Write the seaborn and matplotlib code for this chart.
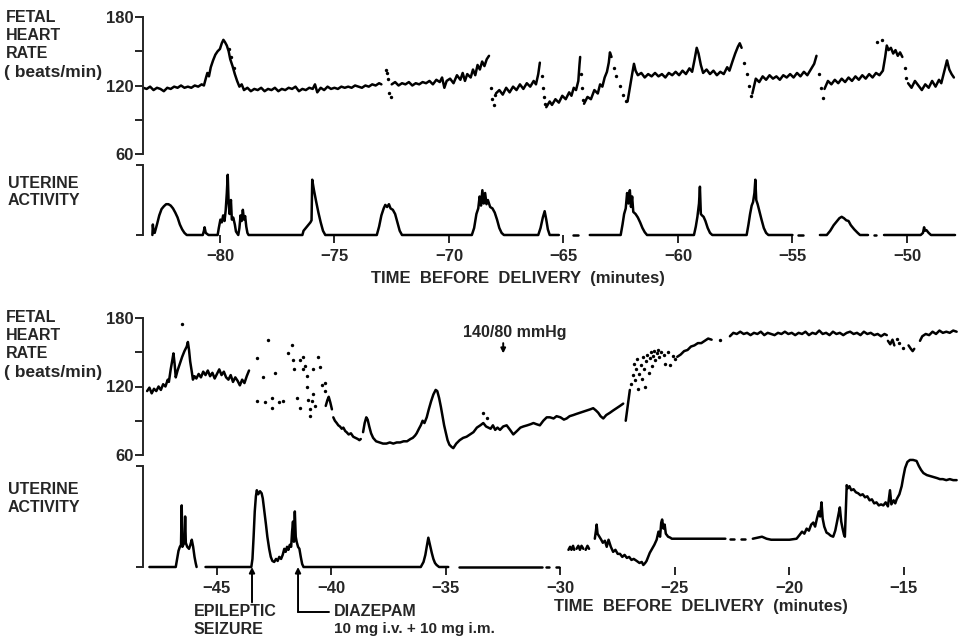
import numpy as np
import pandas as pd
import matplotlib
matplotlib.use("Agg")
import matplotlib.pyplot as plt
import seaborn as sns

sns.set_theme(style="ticks")
plt.rcParams['font.family'] = ['Liberation Sans', 'DejaVu Sans']
plt.rcParams['font.weight'] = 'bold'

nan = np.nan

# ---------------- Upper record (-83 to -48 min) ----------------
top_fhr_t = [
    -83.35, -83.2, -83.05, -82.9, -82.75, -82.6, -82.45, -82.3, -82.15, -82.0,
    -81.85, -81.7, -81.55, -81.4, -81.25, -81.1, -80.95, -80.8, -80.7, -80.62,
    -80.55, -80.48, -80.4, -80.3, -80.2, -80.1, -80.0, -79.92, -79.85, -79.78,
    -79.7, -79.62, -79.55, -79.45, -79.35, -79.25, -79.15, -79.05, -78.95, -78.8,
    -78.65, -78.5, -78.35, -78.2, -78.05, -77.9, -77.75, -77.6, -77.45, -77.3,
    -77.15, -77.0, -76.85, -76.7, -76.55, -76.4, -76.25, -76.1, -75.95, -75.85,
    -75.75, -75.6, -75.45, -75.3, -75.15, -75.0, -74.85, -74.7, -74.55, -74.4,
    -74.25, -74.1, -73.95, -73.8, -73.65, -73.5, -73.35, -73.2, -73.05, -72.95, nan,
    -72.5, -72.35, -72.2, -72.05, -71.9, -71.75, -71.6, -71.45, -71.3, -71.15,
    -71.0, -70.85, -70.7, -70.55, -70.4, -70.3, -70.2, -70.1, -69.95, -69.8,
    -69.65, -69.5, -69.4, -69.3, -69.2, -69.05, -68.95, -68.85, -68.75, -68.65,
    -68.55, -68.45, -68.35, -68.25, nan,
    -67.95, -67.8, -67.65, -67.5, -67.35, -67.2, -67.05, -66.9, -66.75, -66.6,
    -66.45, -66.3, -66.2, -66.1, -66.03, nan,
    -65.75, -65.6, -65.5, -65.35, -65.2, -65.05, -64.9, -64.75, -64.65, -64.55,
    -64.45, -64.35, -64.3, -64.27, nan,
    -64.1, -63.95, -63.8, -63.65, -63.5, -63.4, -63.3, -63.2, -63.1, -63.02,
    -62.97, -62.9, nan,
    -62.2, -62.1, -62.0, -61.92, -61.85, -61.75, -61.6, -61.45, -61.3, -61.15,
    -61.0, -60.85, -60.7, -60.55, -60.4, -60.25, -60.1, -59.95, -59.8, -59.65,
    -59.5, -59.38, -59.28, -59.18, -59.1, -59.0, -58.9, -58.75, -58.6, -58.45,
    -58.3, -58.15, -58.0, -57.85, -57.75, -57.62, -57.5, -57.38, -57.3, -57.22, nan,
    -56.75, -56.6, -56.45, -56.3, -56.15, -56.0, -55.85, -55.7, -55.55, -55.4,
    -55.25, -55.1, -54.95, -54.8, -54.65, -54.5, -54.35, -54.2, -54.05, -53.95, nan,
    -53.6, -53.45, -53.3, -53.15, -53.0, -52.85, -52.7, -52.55, -52.4, -52.25,
    -52.1, -51.95, -51.8, -51.65, -51.5, -51.35, -51.2, -51.05, -50.95, -50.88,
    -50.8, -50.7, -50.6, -50.5, -50.4, -50.3, -50.2, nan,
    -49.95, -49.8, -49.65, -49.5, -49.35, -49.2, -49.05, -48.9, -48.75, -48.6,
    -48.5, -48.4, -48.3, -48.25, -48.15, -48.05, -47.95,
]
top_fhr_bpm = [
    118, 117, 119, 116, 118, 117, 115, 118, 117, 119,
    118, 120, 118, 119, 118, 120, 119, 121, 120, 126,
    131, 128, 136, 142, 147, 150, 152, 157, 160, 158,
    155, 150, 143, 137, 130, 124, 119, 121, 116, 118,
    115, 117, 116, 118, 115, 117, 116, 118, 115, 117,
    116, 118, 117, 119, 115, 117, 116, 118, 117, 121,
    114, 118, 116, 119, 117, 118, 117, 119, 118, 119,
    118, 120, 119, 118, 120, 119, 121, 120, 122, 121, nan,
    121, 123, 120, 122, 121, 123, 120, 122, 121, 123,
    122, 124, 121, 125, 123, 127, 118, 124, 126, 122,
    129, 125, 131, 124, 130, 127, 134, 129, 138, 134,
    141, 137, 143, 146, nan,
    113, 116, 112, 118, 114, 119, 116, 121, 117, 122,
    119, 124, 121, 130, 140, nan,
    101, 106, 103, 108, 105, 111, 108, 114, 111, 118,
    116, 124, 138, 145, nan,
    104, 110, 108, 116, 113, 121, 119, 127, 132, 140,
    149, 145, nan,
    106, 118, 130, 139, 133, 129, 131, 127, 130, 128,
    131, 128, 130, 127, 131, 129, 132, 129, 133, 130,
    135, 132, 142, 153, 148, 138, 131, 134, 130, 133,
    129, 132, 130, 136, 133, 141, 148, 154, 157, 153, nan,
    113, 126, 123, 128, 125, 129, 126, 128, 125, 129,
    127, 130, 127, 131, 128, 132, 129, 134, 139, 146, nan,
    117, 124, 121, 125, 122, 126, 123, 127, 124, 128,
    125, 129, 126, 130, 127, 131, 129, 133, 145, 155,
    151, 153, 148, 151, 146, 149, 145, nan,
    122, 118, 124, 120, 116, 121, 118, 124, 119, 125,
    122, 130, 138, 142, 134, 130, 127,
]
top_dots_t = [-72.75, -72.7, -72.65, -72.6, -72.55, -68.15, -68.1, -68.05, -68.0,
              -65.95, -65.9, -65.85, -65.8, -64.22, -64.18, -64.15, -62.8, -62.7,
              -62.55, -62.4, -62.25, -57.1, -57.0, -56.9, -56.8, -53.85, -53.75,
              -53.68, -51.3, -51.1, -50.1, -50.05, -79.6, -79.5, -79.4]
top_dots_bpm = [134, 131, 126, 113, 110, 118, 108, 103, 112,
                128, 118, 110, 104, 130, 118, 107, 135, 128,
                120, 112, 106, 140, 130, 120, 111, 130, 118,
                109, 158, 160, 135, 127, 152, 145, 135]

top_ua_t = [
    -82.95, -82.93, -82.9, -82.85, -82.75, -82.65, -82.55, -82.45, -82.35, -82.25,
    -82.15, -82.05, -81.95, -81.85, -81.75, -81.65, -81.55, -81.45, -80.75, -80.7,
    -80.67, -80.62, -80.5, -80.1, -80.05, -79.98, -79.92, -79.86, -79.8, -79.75,
    -79.7, -79.66, -79.62, -79.58, -79.52, -79.48, -79.42, -79.35, -79.3, -79.2,
    -79.15, -79.1, -79.05, -79.0, -78.95, -78.9, -78.85, -78.8, -78.75, -76.4,
    -76.35, -76.2, -76.05, -76.0, -75.97, -75.9, -75.8, -75.7, -75.6, -75.5,
    -75.4, -73.15, -73.05, -72.95, -72.85, -72.78, -72.7, -72.62, -72.55, -72.45,
    -72.35, -72.25, -72.15, -72.05, -69.0, -68.9, -68.8, -68.72, -68.66, -68.6,
    -68.54, -68.48, -68.42, -68.36, -68.3, -68.2, -68.1, -68.0, -67.9, -67.8,
    -67.7, -67.6, -66.1, -66.0, -65.9, -65.82, -65.75, -65.68, -65.6, -65.2, nan,
    -64.6, -64.35, nan,
    -63.85, -62.5, -62.42, -62.35, -62.28, -62.22, -62.16, -62.1, -62.05, -62.0,
    -61.95, -61.85, -61.75, -61.65, -61.55, -61.45, -61.35, -59.3, -59.22, -59.15,
    -59.08, -59.04, -59.0, -58.95, -58.88, -58.8, -58.7, -58.6, -58.5, -57.0,
    -56.92, -56.85, -56.78, -56.72, -56.66, -56.62, -56.58, -56.52, -56.45, -56.35,
    -56.25, -56.15, -56.05, -55.0, nan,
    -54.75, -54.55, nan,
    -53.8, -53.5, -53.35, -53.2, -53.05, -52.95, -52.85, -52.75, -52.65, -52.55,
    -52.45, -52.3, -52.15, -52.05, -51.7, nan,
    -51.45, -51.35, nan,
    -51.0, -49.4, -49.3, -49.25, -49.22, -49.15, -49.05, -48.95, -47.9,
]
top_ua = [
    0, 15, 5, 3, 15, 28, 37, 41, 44, 44,
    42, 38, 32, 25, 15, 8, 3, 0, 0, 6,
    11, 3, 0, 0, 10, 22, 18, 28, 20, 35,
    60, 86, 45, 30, 50, 22, 25, 15, 5, 0,
    10, 28, 20, 36, 22, 27, 12, 3, 0, 0,
    6, 12, 18, 21, 79, 65, 48, 32, 18, 6,
    0, 0, 12, 28, 38, 43, 40, 44, 38, 36,
    30, 18, 6, 0, 0, 10, 30, 38, 55, 42,
    64, 45, 60, 44, 50, 40, 38, 32, 22, 10,
    3, 0, 0, 10, 25, 34, 22, 8, 0, 0, nan,
    0, 0, nan,
    0, 0, 15, 30, 38, 60, 45, 64, 40, 55,
    33, 30, 25, 18, 10, 4, 0, 0, 12, 26,
    45, 69, 30, 28, 26, 20, 10, 3, 0, 0,
    15, 30, 42, 47, 60, 79, 50, 44, 35, 22,
    10, 3, 0, 0, nan,
    0, 0, nan,
    0, 0, 6, 14, 20, 24, 26, 24, 21, 20,
    14, 8, 3, 0, 0, nan,
    0, 0, nan,
    0, 0, 3, 11, 6, 7, 3, 0, 0,
]

# ---------------- Lower record (-48 to -13 min) ----------------
bot_fhr_t = [
    -48.05, -47.95, -47.85, -47.75, -47.65, -47.55, -47.45, -47.35, -47.25, -47.15,
    -47.1, -47.02, -46.95, -46.9, -46.85, -46.8, -46.72, -46.62, -46.52, -46.42,
    -46.32, -46.27, -46.22, -46.17, -46.1, -46.05, -45.98, -45.9, -45.8, -45.7,
    -45.6, -45.5, -45.4, -45.3, -45.2, -45.1, -45.0, -44.9, -44.8, -44.7,
    -44.6, -44.5, -44.4, -44.3, -44.2, -44.1, -44.0, -43.9, -43.8, -43.7, -43.6, nan,
    -40.25, -40.18, -40.12, -40.05, -39.98, nan,
    -39.92, -39.85, -39.77, -39.7, -39.63, -39.55, -39.48, -39.4, -39.34, -39.25,
    -39.15, -39.05, -38.95, -38.85, -38.78, -38.72, nan,
    -38.62, -38.55, -38.48, -38.42, -38.35, -38.27, -38.18, -38.05, -37.9, -37.75,
    -37.6, -37.45, -37.3, -37.15, -37.0, -36.85, -36.7, -36.55, -36.45, -36.35,
    -36.28, -36.18, -36.1, -36.02, -35.94, -35.84, -35.75, -35.65, -35.55, -35.45,
    -35.38, -35.3, -35.22, -35.15, -35.08, -35.0, -34.93, -34.85, -34.75, -34.68,
    -34.55, -34.4, -34.25, -34.1, -33.95, -33.8, -33.65, -33.5, -33.37, -33.25,
    -33.15, -33.05, -32.95, -32.85, -32.75, -32.64, -32.5, -32.35, -32.2, -32.06,
    -31.9, -31.75, -31.62, -31.45, -31.3, -31.18, -31.05, -30.9, -30.75, -30.6,
    -30.46, -30.3, -30.17, -30.0, -29.85, -29.73, -29.6, -29.44, -29.3, -29.15,
    -29.0, -28.85, -28.7, -28.57, -28.45, -28.35, -28.25, -28.13, -28.0, -27.84,
    -27.7, -27.55, -27.4, -27.26, nan,
    -27.15, -27.05, -26.97, nan,
    -24.9, -24.75, -24.6, -24.45, -24.3, -24.15, -24.0, -23.85, -23.7, -23.55, -23.4, nan,
    -22.6, -22.45, -22.3, -22.15, -22.0, -21.85, -21.7, -21.55, -21.4, -21.25,
    -21.1, -20.95, -20.8, -20.65, -20.5, -20.35, -20.2, -20.05, -19.9, -19.75,
    -19.6, -19.45, -19.3, -19.15, -19.0, -18.85, -18.7, -18.55, -18.4, -18.25,
    -18.1, -17.95, -17.8, -17.65, -17.5, -17.35, -17.2, -17.05, -16.9, -16.75,
    -16.6, -16.45, -16.3, -16.15, -16.0, -15.85, -15.75, nan,
    -15.7, -15.6, -15.5, -15.42, nan,
    -14.8, -14.7, -14.62, -14.55, nan,
    -14.3, -14.2, -14.05, -13.9, -13.75, -13.6, -13.45, -13.3, -13.15, -13.0, -12.85, -12.7,
]
bot_fhr_bpm = [
    116, 119, 114, 118, 116, 120, 117, 122, 120, 126,
    124, 135, 143, 149, 140, 128, 134, 140, 146, 151,
    155, 159, 152, 142, 133, 126, 129, 127, 131, 128,
    133, 130, 134, 129, 132, 127, 131, 135, 130, 133,
    128, 126, 130, 124, 128, 125, 121, 126, 123, 129, 134, nan,
    103, 108, 111, 106, 100, nan,
    93, 90, 88, 86, 85, 83, 84, 81, 80, 78,
    79, 76, 75, 74, 73, 74, nan,
    80, 88, 93, 91, 85, 79, 75, 72, 71, 70,
    70, 71, 70, 71, 71, 72, 72, 74, 75, 77,
    79, 83, 86, 90, 88, 93, 100, 107, 113, 117,
    116, 110, 102, 94, 86, 79, 73, 69, 67, 66,
    70, 73, 75, 76, 78, 80, 84, 86, 88, 85,
    84, 83, 86, 82, 84, 82, 85, 86, 82, 78,
    81, 84, 85, 86, 87, 88, 87, 86, 90, 93,
    93, 92, 94, 93, 91, 92, 94, 95, 96, 97,
    98, 99, 100, 101, 99, 97, 94, 92, 95, 97,
    99, 101, 103, 105, nan,
    90, 105, 117, nan,
    146, 148, 151, 152, 155, 156, 158, 158, 160, 162, 161, nan,
    164, 167, 166, 168, 166, 167, 165, 167, 166, 168,
    165, 167, 166, 165, 167, 166, 168, 166, 167, 165,
    167, 166, 168, 165, 167, 166, 169, 166, 167, 165,
    168, 166, 167, 165, 167, 168, 166, 167, 165, 168,
    166, 167, 165, 166, 164, 166, 165, nan,
    160, 157, 161, 156, nan,
    156, 153, 151, 153, nan,
    160, 164, 166, 165, 168, 166, 169, 167, 168, 167, 169, 168,
]
bot_dots_t = [-42.76, -43.27, -42.47, -43.27, -42.61, -42.61, -42.1, -41.89, -41.74, -41.67,
              -41.64, -41.52, -41.38, -41.23, -41.16, -41.08, -41.08, -41.01, -40.94, -40.94,
              -40.87, -40.79, -40.79, -40.57, -40.5, -40.43, -40.28, -40.28, -41.23, -41.38,
              -40.72, -43.0, -42.3, -42.9, -46.54, -33.4, -33.2,
              -26.9, -26.85, -26.8, -26.75, -26.7, -26.65, -26.6, -26.55, -26.5, -26.45,
              -26.4, -26.35, -26.3, -26.25, -26.2, -26.15, -26.1, -26.05, -26.0, -25.95,
              -25.9, -25.85, -25.8, -25.75, -25.7, -25.6, -25.5, -25.45, -25.3, -25.2,
              -25.1, -25.0, -23.03, -15.3, -15.2, -15.05]
bot_dots_bpm = [161, 145, 132, 107, 110, 101, 107, 149, 156, 143,
                135, 110, 101, 146, 138, 129, 120, 108, 100, 94,
                107, 135, 113, 146, 137, 121, 123, 116, 135, 143,
                103, 128, 106, 106, 175, 97, 92,
                122, 130, 140, 126, 135, 144, 118, 131, 139, 127,
                146, 135, 120, 142, 148, 132, 145, 150, 138, 147,
                151, 143, 149, 152, 146, 150, 148, 140, 150, 139,
                147, 144, 161, 162, 158, 154]

bot_ua_t = [
    -47.95, -46.8, -46.74, -46.68, -46.62, -46.57, -46.54, -46.51, -46.47, -46.42,
    -46.39, -46.36, -46.3, -46.22, -46.16, -46.1, -46.04, -45.98, -45.93, -45.89, nan,
    -45.5, -43.5, -43.45, -43.4, -43.35, -43.3, -43.26, -43.2, -43.12, -43.05,
    -43.0, -42.93, -42.86, -42.8, -42.72, -42.65, -42.58, -42.5, -42.42, -42.35,
    -42.28, -42.2, -42.13, -42.06, -42.0, -41.94, -41.88, -41.82, -41.76, -41.72,
    -41.68, -41.64, -41.6, -41.56, -41.52, -41.46, -41.4, -41.34, -41.28, -41.22,
    -36.1, -35.98, -35.9, -35.84, -35.77, -35.7, -35.62, -35.55, -35.48, -35.41, -35.3, -34.9, nan,
    -34.45, -30.8, nan, -30.65, -30.5, nan, -30.2, -30.05, nan,
    -29.65, -29.58, -29.52, -29.45, -29.4, nan,
    -29.3, -29.22, -29.15, -29.08, -29.0, nan,
    -28.9, -28.82, -28.75, nan,
    -28.5, -28.45, -28.42, -28.38, -28.3, -28.22, -28.15, -28.06, -27.98, -27.9,
    -27.8, -27.7, -27.6, -27.5, -27.4, -27.3, -27.2, -27.1, -27.0, -26.9,
    -26.8, -26.67, -26.55, -26.45, -26.38, -26.3, -26.24, -26.17, -26.1, -26.0,
    -25.9, -25.8, -25.72, -25.65, -25.6, -25.56, -25.5, -25.45, -25.4, -25.3,
    -25.2, -25.14, -24.0, -22.8, nan, -22.6, -22.4, nan, -22.1, -21.95, nan,
    -21.6, -21.4, -21.2, -21.0, -20.8, -20.5, -20.0, -19.69, -19.55, -19.45,
    -19.35, -19.25, -19.15, -19.05, -18.96, -18.88, -18.8, -18.72, -18.66, -18.6,
    -18.55, -18.48, -18.38, -18.3, -18.2, -18.09, -18.0, -17.92, -17.86, -17.8,
    -17.74, -17.68, -17.62, -17.58, -17.54, -17.5, -17.45, -17.38, -17.3, -17.2,
    -17.1, -17.0, -16.9, -16.8, -16.7, -16.6, -16.5, -16.4, -16.3, -16.2,
    -16.1, -16.0, -15.9, -15.8, -15.7, -15.61, -15.55, -15.45, -15.38, -15.32,
    -15.2, -15.1, -15.03, -14.95, -14.85, -14.74, -14.6, -14.45, -14.35, -14.25,
    -14.15, -14.0, -13.85, -13.7, -13.55, -13.43, -13.3, -13.15, -13.0, -12.85, -12.7,
]
bot_ua = [
    0, 0, 8, 16, 20, 22, 61, 20, 22, 24,
    50, 24, 20, 18, 22, 27, 20, 10, 4, 0, nan,
    0, 0, 8, 30, 55, 70, 76, 72, 75, 73,
    68, 55, 42, 30, 18, 10, 6, 5, 8, 6,
    10, 8, 12, 18, 15, 20, 17, 22, 20, 35,
    45, 25, 55, 30, 25, 20, 18, 10, 3, 0,
    0, 5, 12, 20, 29, 22, 14, 8, 4, 2, 0, 0, nan,
    0, 0, nan, 0, 0, nan, 0, 0, nan,
    17, 20, 17, 21, 17, nan,
    18, 21, 17, 21, 18, nan,
    17, 21, 18, nan,
    28, 36, 42, 33, 30, 27, 24, 26, 20, 27,
    20, 15, 17, 13, 13, 10, 12, 9, 10, 7,
    8, 6, 4, 5, 2, 4, 6, 10, 14, 18,
    22, 27, 35, 30, 44, 47, 38, 42, 33, 30,
    29, 28, 28, 28, nan, 28, 28, nan, 28, 28, nan,
    28, 29, 30, 28, 27, 27, 27, 28, 32, 35,
    33, 38, 36, 42, 44, 40, 48, 55, 50, 64,
    48, 40, 34, 33, 31, 30, 36, 45, 52, 59,
    45, 38, 32, 30, 55, 81, 78, 80, 76, 77,
    74, 73, 71, 72, 69, 70, 66, 67, 63, 64,
    61, 62, 61, 64, 60, 76, 62, 66, 63, 67,
    72, 80, 89, 98, 104, 106, 106, 105, 100, 96,
    93, 91, 90, 89, 88, 87, 87, 86, 87, 86, 86,
]

top_ticks = [-80, -75, -70, -65, -60, -55, -50]
bot_ticks = [-45, -40, -35, -30, -25, -20, -15]
fhr_ticks = [60, 90, 120, 150, 180]
fhr_labels = ['60', '', '120', '', '180']
seizure_t = -43.47
diazepam_t = -41.46
bp_t = -32.5

# ---------------- helpers ----------------
WPX, HPX = 958, 637


def trace_df(t, v):
    t = np.asarray(t, float)
    v = np.asarray(v, float)
    assert len(t) == len(v)
    seg = np.cumsum(np.isnan(v))
    return pd.DataFrame({'t': t, 'v': v, 'seg': seg}).dropna()


def draw_trace(ax, t, v, lw=1.8):
    df = trace_df(t, v)
    sns.lineplot(data=df, x='t', y='v', units='seg', estimator=None, sort=False,
                 color='black', lw=lw, ax=ax, legend=False)


def draw_dots(ax, t, v, s=6):
    assert len(t) == len(v)
    sns.scatterplot(x=t, y=v, color='black', s=s, linewidth=0, ax=ax, legend=False)


fig = plt.figure(figsize=(WPX / 100, HPX / 100), dpi=100)
L, W = 143 / WPX, 815 / WPX


def add_ax(top_px, bot_px):
    ax = fig.add_axes([L, 1 - bot_px / HPX, W, (bot_px - top_px) / HPX])
    ax.set_facecolor('none')
    return ax


ax1 = add_ax(17, 154)
ax2 = add_ax(165, 235)
ax3 = add_ax(318, 455)
ax4 = add_ax(466, 567)

draw_trace(ax1, top_fhr_t, top_fhr_bpm)
draw_dots(ax1, top_dots_t, top_dots_bpm)
draw_trace(ax2, top_ua_t, top_ua)
draw_trace(ax3, bot_fhr_t, bot_fhr_bpm)
draw_dots(ax3, bot_dots_t, bot_dots_bpm)
draw_trace(ax4, bot_ua_t, bot_ua)

for ax, xl in ((ax1, (-83.36, -47.77)), (ax2, (-83.36, -47.77)),
               (ax3, (-48.23, -12.64)), (ax4, (-48.23, -12.64))):
    ax.set_xlim(*xl)
    ax.set_xlabel('')
    ax.set_ylabel('')
    for s in ('top', 'right', 'bottom'):
        ax.spines[s].set_visible(False)
    ax.spines['left'].set_linewidth(1.4)
    for ln in ax.lines:
        ln.set_clip_on(False)
    for c in ax.collections:
        c.set_clip_on(False)

for ax in (ax1, ax3):
    ax.set_ylim(60, 180)
    ax.spines['left'].set_bounds(60, 180)
    ax.set_xticks([])
    ax.set_yticks(fhr_ticks, fhr_labels)
    ax.tick_params(axis='y', direction='out', length=6, width=1.4, labelsize=12, pad=1)
    for lab in ax.get_yticklabels():
        lab.set_fontweight('bold')

for ax, ticks in ((ax2, top_ticks), (ax4, bot_ticks)):
    ax.set_ylim(0, 100)
    ax.spines['left'].set_bounds(0, 100)
    ax.set_yticks([0, 100], ['', ''])
    ax.tick_params(axis='y', direction='out', length=5, width=1.4)
    ax.set_xticks(ticks, ['\u2212' + str(abs(k)) for k in ticks])
    ax.tick_params(axis='x', direction='out', length=6, width=1.4, labelsize=12, pad=4)
    for lab in ax.get_xticklabels():
        lab.set_fontweight('bold')


def ftext(x, y, s, size=11, ha='left', va='center'):
    fig.text(x / WPX, 1 - y / HPX, s, fontsize=size, fontweight='bold', ha=ha, va=va)


for y0 in (18, 318):
    ftext(6, y0, 'FETAL', size=11.5)
    ftext(6, y0 + 18, 'HEART', size=11.5)
    ftext(6, y0 + 36, 'RATE', size=11.5)
    ftext(4, y0 + 55, '( beats/min)', size=12.5)
for y0 in (183, 490):
    ftext(8, y0, 'UTERINE', size=11.5)
    ftext(8, y0 + 17, 'ACTIVITY', size=11.5)

ftext(518, 278, 'TIME  BEFORE  DELIVERY  (minutes)', size=12, ha='center')
ftext(701, 607, 'TIME  BEFORE  DELIVERY  (minutes)', size=12, ha='center')

# annotations
ftext(515, 333, '140/80 mmHg', size=11.5, ha='center')
ax3.annotate('', xy=(bp_t, 149), xytext=(bp_t, 158), annotation_clip=False,
             arrowprops=dict(arrowstyle='-|>', color='black', lw=1.4,
                             mutation_scale=7, shrinkA=0, shrinkB=0))
ax4.annotate('', xy=(seizure_t, 0), xytext=(seizure_t, -35), annotation_clip=False,
             arrowprops=dict(arrowstyle='-|>', color='black', lw=1.4,
                             mutation_scale=8, shrinkA=0, shrinkB=0))
ax4.annotate('', xy=(diazepam_t, 0), xytext=(diazepam_t, -44.6), annotation_clip=False,
             arrowprops=dict(arrowstyle='-|>', color='black', lw=1.4,
                             mutation_scale=8, shrinkA=0, shrinkB=0))
ax4.plot([diazepam_t, -40.1], [-44.6, -44.6], color='black', lw=1.4, clip_on=False)

ftext(194, 612, 'EPILEPTIC', size=11.5)
ftext(194, 629, 'SEIZURE', size=11.5)
ftext(334, 612, 'DIAZEPAM', size=11.5)
ftext(334, 629, '10 mg i.v. + 10 mg i.m.', size=11)

fig.savefig('out.png', dpi=100)
